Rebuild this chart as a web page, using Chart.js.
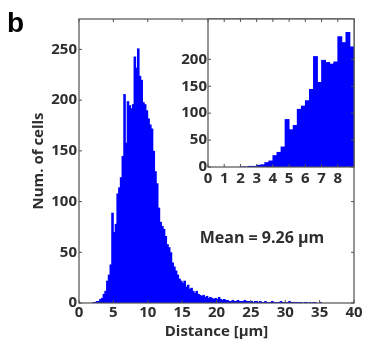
<!DOCTYPE html>
<html>
<head>
<meta charset="utf-8">
<script src="https://cdn.jsdelivr.net/npm/chart.js@4.4.1/dist/chart.umd.min.js"></script>
<style>
  body { margin: 0; background: #fff; }
  #wrap { position: relative; width: 374px; height: 352px; }
  #main { position: absolute; left: 0; top: 0; }
  #inset { position: absolute; left: 170px; top: 0; }
</style>
</head>
<body>
<div id="wrap">
  <canvas id="main" width="374" height="352"></canvas>
  <canvas id="inset" width="204" height="200"></canvas>
</div>
<script>
// histogram of distances, bins of 0.25 um starting at 0
var binStart = 0;
var binWidth = 0.25;
var counts = [
  0, 0, 0, 0, 0, 0, 0, 0,            // 0 - 2
  1, 1, 2, 2, 4, 5, 9, 12,           // 2 - 4
  22, 28, 38, 89, 70, 78, 108, 114,  // 4 - 6
  124, 145, 206, 158, 199, 195, 192, 196, // 6 - 8
  243, 232, 251, 224, 220, 198, 196, 190, // 8 - 10
  182, 176, 172, 150, 130, 118, 94, 80,   // 10 - 12
  76, 73, 66, 58, 55, 50, 40, 36,    // 12 - 14
  32, 28, 24, 22, 20, 22, 16, 18,    // 14 - 16
  14, 15, 12, 10, 12, 9, 8, 7,       // 16 - 18
  8, 6, 7, 5, 6, 5, 4, 5,            // 18 - 20
  4, 6, 4, 3, 4, 3, 3, 2,            // 20 - 22
  2, 3, 2, 2, 3, 2, 2, 2,            // 22 - 24
  3, 2, 2, 2, 2, 1, 2, 2,            // 24 - 26
  1, 2, 1, 1, 2, 1, 1, 1,            // 26 - 28
  2, 1, 1, 1, 1, 2, 1, 1,            // 28 - 30
  1, 1, 2, 1, 1, 1, 1, 1,            // 30 - 32
  1, 1, 0, 1, 1, 0, 1, 0,            // 32 - 34
  1, 1, 0, 0, 1, 0, 0, 0,            // 34 - 36
  0, 0, 0, 0, 0, 0, 0, 0,            // 36 - 38
  0, 0, 0, 0, 0, 0, 0, 0             // 38 - 40
];
var binCenters = counts.map(function (c, i) { return binStart + (i + 0.5) * binWidth; });

var mainXTicks = [0, 5, 10, 15, 20, 25, 30, 35, 40];
var mainYTicks = [0, 50, 100, 150, 200, 250];
var insetXTicks = [0, 1, 2, 3, 4, 5, 6, 7, 8];
var insetYTicks = [0, 50, 100, 150, 200];
var insetMaxDistance = 9;
var meanText = 'Mean = 9.26 \u00b5m';

var blue = '#0000ff';
var textColor = '#2e2e2e';
var axisColor = '#505050';
var tickFont = { family: 'Open Sans', size: 15, weight: 'bold' };
var titleFont = { family: 'Open Sans', size: 15, weight: 'bold' };

function points(n) {
  var out = [];
  for (var i = 0; i < n; i++) out.push({ x: binCenters[i], y: counts[i] });
  return out;
}

// box around the plot area with small inward ticks
var boxPlugin = {
  id: 'box',
  beforeDatasetsDraw: function (chart) {
    var a = chart.chartArea, ctx = chart.ctx;
    ctx.save();
    ctx.fillStyle = '#fff';
    ctx.fillRect(a.left, a.top, a.right - a.left, a.bottom - a.top);
    ctx.restore();
  },
  afterDatasetsDraw: function (chart) {
    var a = chart.chartArea, ctx = chart.ctx;
    ctx.save();
    ctx.strokeStyle = axisColor;
    ctx.lineWidth = 1.2;
    ctx.strokeRect(a.left, a.top, a.right - a.left, a.bottom - a.top);
    ctx.lineWidth = 1;
    var len = 3;
    chart.scales.x.ticks.forEach(function (t) {
      var px = chart.scales.x.getPixelForValue(t.value);
      ctx.beginPath();
      ctx.moveTo(px, a.bottom); ctx.lineTo(px, a.bottom - len);
      ctx.moveTo(px, a.top); ctx.lineTo(px, a.top + len);
      ctx.stroke();
    });
    chart.scales.y.ticks.forEach(function (t) {
      var py = chart.scales.y.getPixelForValue(t.value);
      ctx.beginPath();
      ctx.moveTo(a.left, py); ctx.lineTo(a.left + len, py);
      ctx.moveTo(a.right, py); ctx.lineTo(a.right - len, py);
      ctx.stroke();
    });
    ctx.restore();
  }
};

var labelPlugin = {
  id: 'labels',
  afterDraw: function (chart) {
    var ctx = chart.ctx;
    ctx.save();
    ctx.fillStyle = '#000';
    ctx.font = 'bold 28px "Liberation Sans"';
    ctx.textBaseline = 'alphabetic';
    ctx.fillText('b', 7, 32);
    ctx.fillStyle = textColor;
    ctx.font = 'bold 16px "Open Sans"';
    ctx.textAlign = 'center';
    ctx.textBaseline = 'middle';
    ctx.fillText(meanText, 262, 238);
    ctx.restore();
  }
};

function keepTicks(list) {
  return function (scale) {
    scale.ticks = list.map(function (v) { return { value: v }; });
  };
}

new Chart(document.getElementById('main'), {
  type: 'bar',
  data: {
    datasets: [{
      data: points(counts.length),
      backgroundColor: blue,
      borderWidth: 0,
      barPercentage: 1.5,
      categoryPercentage: 1
    }]
  },
  options: {
    responsive: false,
    animation: false,
    layout: { padding: { top: 19, right: 20, left: 0, bottom: 0 } },
    plugins: { legend: { display: false }, tooltip: { enabled: false } },
    scales: {
      x: {
        type: 'linear', min: 0, max: 40, offset: false,
        afterBuildTicks: keepTicks(mainXTicks),
        afterFit: function (s) { s.height = 49; },
        grid: { display: false, drawTicks: false }, border: { display: false },
        ticks: { color: textColor, font: tickFont, padding: 1, maxRotation: 0, autoSkip: false },
        title: { display: true, text: 'Distance [\u00b5m]', color: textColor, font: titleFont, padding: { top: 0, bottom: 11 } }
      },
      y: {
        min: 0, max: 280,
        afterBuildTicks: keepTicks(mainYTicks),
        afterFit: function (s) { s.width = 79; },
        grid: { display: false, drawTicks: false }, border: { display: false },
        ticks: { color: textColor, font: tickFont, padding: 2 },
        title: { display: true, text: 'Num. of cells', color: textColor, font: titleFont, padding: { top: 30, bottom: 0 } }
      }
    }
  },
  plugins: [boxPlugin, labelPlugin]
});

var insetBins = binCenters.filter(function (x) { return x < insetMaxDistance; }).length;

new Chart(document.getElementById('inset'), {
  type: 'bar',
  data: {
    datasets: [{
      data: points(insetBins),
      backgroundColor: blue,
      borderWidth: 0,
      barPercentage: 1.2,
      categoryPercentage: 1
    }]
  },
  options: {
    responsive: false,
    animation: false,
    layout: { padding: { top: 19, right: 20, left: 0, bottom: 0 } },
    plugins: { legend: { display: false }, tooltip: { enabled: false } },
    scales: {
      x: {
        type: 'linear', min: 0, max: insetMaxDistance, offset: false,
        afterBuildTicks: keepTicks(insetXTicks),
        afterFit: function (s) { s.height = 33; },
        grid: { display: false, drawTicks: false }, border: { display: false },
        ticks: { color: textColor, font: tickFont, padding: 3, maxRotation: 0, autoSkip: false }
      },
      y: {
        min: 0, max: 275,
        afterBuildTicks: keepTicks(insetYTicks),
        afterFit: function (s) { s.width = 38; },
        grid: { display: false, drawTicks: false }, border: { display: false },
        ticks: { color: textColor, font: tickFont, padding: 1 }
      }
    }
  },
  plugins: [boxPlugin]
});
</script>
</body>
</html>
